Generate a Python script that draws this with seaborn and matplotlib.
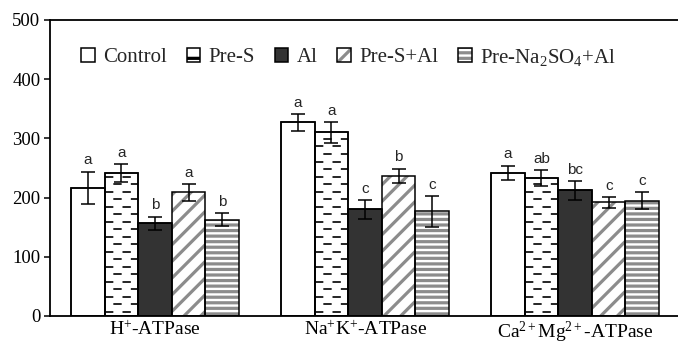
import numpy as np
import pandas as pd
import matplotlib
matplotlib.use('Agg')
import matplotlib.pyplot as plt
from matplotlib.patches import Patch, Rectangle
import seaborn as sns

# values
enzymes = [r'H$^{+}$-ATPase', r'Na$^{+}$K$^{+}$-ATPase', r'Ca$^{2+}$Mg$^{2+}$-ATPase']
treatments = ['Control', 'Pre-S', 'Al', 'Pre-S+Al', r'Pre-Na$_{2}$SO$_{4}$+Al']

control = [217, 327, 242]
pre_s = [242, 310, 233]
al = [157, 180, 212]
pre_s_al = [209, 237, 192]
pre_na_al = [163, 177, 195]

control_err = [27, 14, 12]
pre_s_err = [15, 17, 13]
al_err = [11, 16, 16]
pre_s_al_err = [14, 12, 9]
pre_na_al_err = [11, 26, 14]

control_sig = ['a', 'a', 'a']
pre_s_sig = ['a', 'a', 'ab']
al_sig = ['b', 'c', 'bc']
pre_s_al_sig = ['a', 'b', 'c']
pre_na_al_sig = ['b', 'c', 'c']

values = [control, pre_s, al, pre_s_al, pre_na_al]
errors = [control_err, pre_s_err, al_err, pre_s_al_err, pre_na_al_err]
letters = [control_sig, pre_s_sig, al_sig, pre_s_al_sig, pre_na_al_sig]

sns.set_theme(style='white')
plt.rcParams['font.family'] = ['Liberation Serif', 'DejaVu Serif']
plt.rcParams['mathtext.fontset'] = 'custom'
plt.rcParams['mathtext.rm'] = 'Liberation Serif'
plt.rcParams['mathtext.it'] = 'Liberation Serif:italic'
plt.rcParams['mathtext.default'] = 'rm'
plt.rcParams['hatch.linewidth'] = 2.3

rows = []
for t, vals in zip(treatments, values):
    for e, v in zip(enzymes, vals):
        rows.append({'enzyme': e, 'treatment': t, 'value': v})
df = pd.DataFrame(rows)

GRAY = '#8c8c8c'
DARK = '#333333'
EDGE_LW = 1.1

fig = plt.figure(figsize=(6.78, 3.48), dpi=100)
ax = fig.add_axes([50 / 678, 32 / 348, 628 / 678, 296 / 348])

sns.barplot(data=df, x='enzyme', y='value', hue='treatment', order=enzymes,
            hue_order=treatments, width=0.8, errorbar=None, legend=False,
            saturation=1, palette=['white'] * 5, ax=ax)

# styles for each treatment: face, hatch colour, hatch
styles = [('white', 'black', None),
          ('white', 'black', 'dash'),
          (DARK, 'black', None),
          ('white', GRAY, '//'),
          ('white', GRAY, '---')]

for cont, (face, hcol, hatch), errs, labs in zip(ax.containers, styles, errors, letters):
    xs, ys = [], []
    for p, err, lab in zip(cont.patches, errs, labs):
        x0, w, h = p.get_x(), p.get_width(), p.get_height()
        p.set_facecolor(face)
        if hatch in ('//', '---'):
            p.set_hatch(hatch)
            p.set_edgecolor(hcol)
            p.set_linewidth(0)
        else:
            p.set_edgecolor('black')
            p.set_linewidth(EDGE_LW)
        if hatch == 'dash':
            # staggered short dashes inside the bar
            step = 7.5 / 0.592
            for k, yy in enumerate(np.arange(step * 0.6, h, step)):
                off = 0 if k % 2 == 0 else 5.5
                ln = ax.hlines(yy, x0, x0 + w, colors='black', lw=1.2,
                               linestyles=[(off, (5, 5.5))], zorder=2)
                ln.set_clip_path(p)
        ax.add_patch(Rectangle((x0, 0), w, h, fill=False, ec='black',
                               lw=EDGE_LW, zorder=3))
        xs.append(x0 + w / 2)
        ys.append(h)
        ax.annotate(lab, (x0 + w / 2, h + err), xytext=(0, 3),
                    textcoords='offset points', ha='center', va='bottom',
                    fontsize=11, family=['Liberation Sans', 'DejaVu Sans'])
    ax.errorbar(xs, ys, yerr=errs, fmt='none', ecolor='black',
                elinewidth=1.1, capsize=5, capthick=1.1, zorder=4)

ax.set_xlim(-0.5, 2.49)
ax.set_ylim(0, 500)
ax.set_yticks(range(0, 501, 100))
ax.set_xlabel('')
ax.set_ylabel('')
ax.tick_params(axis='y', direction='out', length=4, width=1.1, colors='black',
               labelsize=13.5, pad=3, left=True)
ax.tick_params(axis='x', length=0, labelsize=14, pad=3, colors='black')
for side in ['left', 'bottom', 'top']:
    ax.spines[side].set_color('black')
    ax.spines[side].set_linewidth(1.3)
ax.spines['right'].set_visible(False)

# legend handles built like the bars
handles = []
for face, hcol, hatch in styles:
    if hatch in ('//', '---'):
        h = (Patch(facecolor=face, edgecolor=hcol, hatch=hatch, lw=0),
             Patch(facecolor='none', edgecolor='black', lw=EDGE_LW))
    elif hatch == 'dash':
        h = Patch(facecolor=face, edgecolor='black', hatch='-', lw=EDGE_LW)
    else:
        h = Patch(facecolor=face, edgecolor='black', lw=EDGE_LW)
    handles.append(h)

ax.legend(handles, treatments, loc='center left', bbox_to_anchor=(0.05, 0.875),
          ncol=5, frameon=False, fontsize=15, handlelength=0.65,
          handleheight=0.65, handletextpad=0.4, columnspacing=0.95,
          borderpad=0, borderaxespad=0)

fig.savefig('out.png', dpi=100)
